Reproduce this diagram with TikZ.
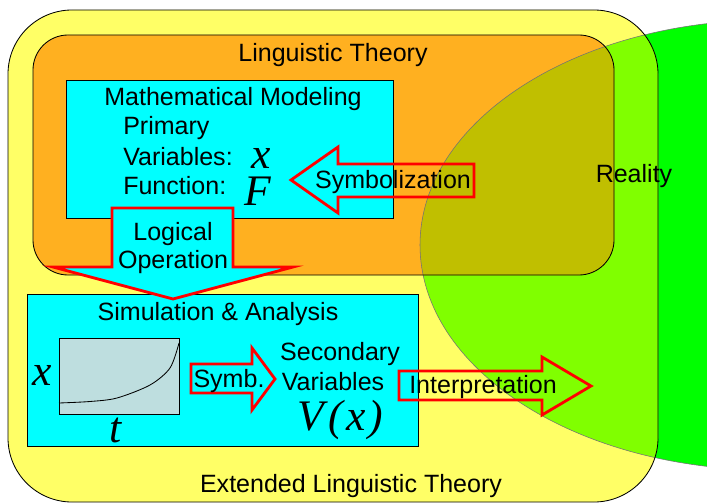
\documentclass[tikz,border=0pt]{standalone}
\usepackage{fontspec}
\setmainfont{Liberation Sans}
\newfontfamily\varfont{Liberation Serif}
\usetikzlibrary{positioning}

\definecolor{realgreen}{RGB}{0,255,0}
\definecolor{extyellow}{RGB}{255,255,102}
\definecolor{extgreen}{RGB}{128,255,0}
\definecolor{lingorange}{RGB}{255,176,32}
\definecolor{lingolive}{RGB}{192,191,0}
\definecolor{boxcyan}{RGB}{0,255,255}
\definecolor{plotgray}{RGB}{190,222,223}

\tikzset{
  lbl/.style={inner sep=0pt,anchor=base,font=\fontsize{17.8}{21}\selectfont},
  lblleft/.style={lbl,anchor=base west},
  var/.style={inner sep=0pt,anchor=base,font=\fontsize{31}{36}\selectfont\varfont\itshape},
  frame/.style={draw=black,line width=0.6pt},
  blockarrow/.style={draw=red,line width=2pt,line join=miter},
}

\begin{document}
\begin{tikzpicture}[x=0.025cm,y=-0.025cm]
\useasboundingbox (0,0) rectangle (707,504);
\clip (0,0) rectangle (707,504);
% reality and the two theories
\fill[realgreen] (770,245) ellipse [x radius=350,y radius=225];
\fill[extyellow,rounded corners=1.6cm] (8,10) rectangle (658,502);
\begin{scope}
\clip (770,245) ellipse [x radius=350,y radius=225];
\fill[extgreen,rounded corners=1.6cm] (8,10) rectangle (658,502);
\end{scope}
\fill[lingorange,rounded corners=0.875cm] (33,35) rectangle (614,275);
\begin{scope}
\clip (770,245) ellipse [x radius=350,y radius=225];
\fill[lingolive,rounded corners=0.875cm] (33,35) rectangle (614,275);
\end{scope}
\draw[black!55,line width=0.4pt] (770,245) ellipse [x radius=350,y radius=225];
\draw[frame,rounded corners=1.6cm] (8,10) rectangle (658,502);
\draw[frame,rounded corners=0.875cm] (33,35) rectangle (614,275);

% boxes
\draw[frame,fill=boxcyan] (66,80) rectangle (393,218);
\draw[frame,fill=boxcyan] (27,294) rectangle (418,446);
\draw[frame,fill=plotgray] (59,338) rectangle (179,414);
\draw[line width=0.6pt] plot[smooth] coordinates {(59,403) (90,401.5) (117,398) (150,385) (170,368) (179,343)};

% block arrows
\draw[blockarrow] (474,164) -- (338,164) -- (338,147) -- (291,180) -- (338,213) -- (338,197) -- (474,197) -- cycle;
\draw[blockarrow,fill=boxcyan] (112,208) -- (233,208) -- (233,267) -- (293,267) -- (173,299) -- (53,267) -- (112,267) -- cycle;
\draw[blockarrow,fill=boxcyan] (191,364) -- (252,364) -- (252,348) -- (275,379) -- (252,410) -- (252,393) -- (191,393) -- cycle;
\draw[blockarrow] (399,371) -- (542,371) -- (542,357) -- (591,386) -- (542,415) -- (542,400) -- (399,400) -- cycle;

% texts
\node[lbl] (ling) at (333,62) {Linguistic Theory};
\node[lbl] (ext) at (351,492) {Extended Linguistic Theory};
\node[lbl] (real) at (634,182) {Reality};
\node[lblleft] (model) at (104,106) {Mathematical Modeling};
\node[lblleft] (prim) at (123,135) {Primary};
\node[lblleft] (vars) at (123,166) {Variables:};
\node[lblleft] (func) at (123,194) {Function:};
\node[var] (xa) at (261,169) {x};
\node[var] (fa) at (258,205) {F};
\node[lbl] (symbol) at (393,188) {Symbolization};
\node[lbl] (logic) at (173,240) {Logical};
\node[lbl] (oper) at (173,268) {Operation};
\node[lbl] (sim) at (218,320) {Simulation \& Analysis};
\node[var] (xb) at (42,385) {x};
\node[var] (tb) at (116,442) {t};
\node[lbl] (symb) at (229,387) {Symb.};
\node[lbl] (second) at (340,360) {Secondary};
\node[lbl] (svars) at (333,390) {Variables};
\node[var] (vx) at (340,430) {V\kern3.5pt(\kern2pt x\kern2pt)};
\node[lbl] (interp) at (483,393) {Interpretation};
\end{tikzpicture}
\end{document}
